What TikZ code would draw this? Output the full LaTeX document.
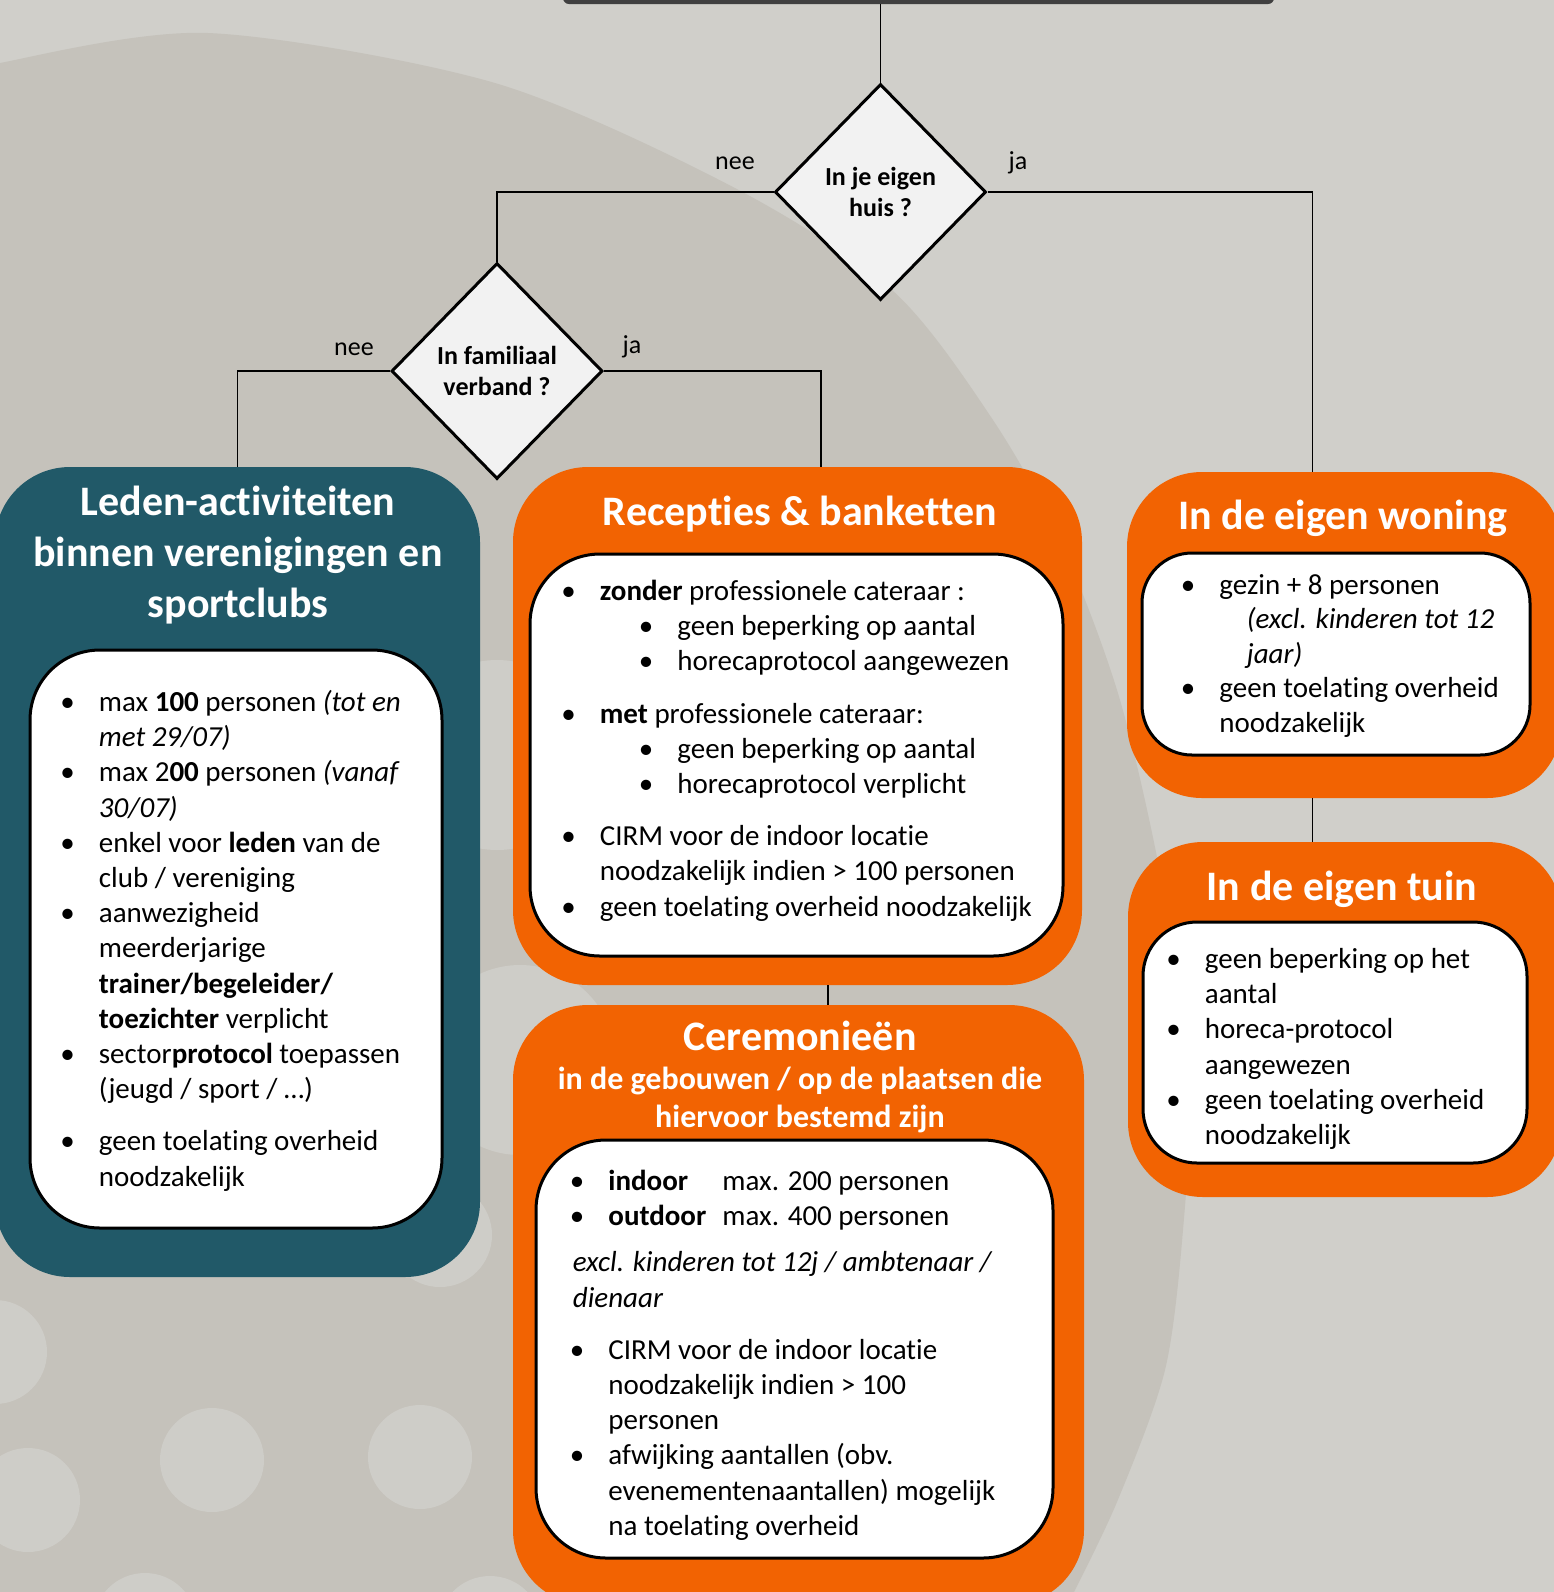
\documentclass[tikz,border=0pt]{standalone}
\usepackage{fontspec}
\setmainfont{Carlito}[Ligatures=NoCommon]
\usetikzlibrary{shapes.geometric}
\definecolor{bggray}{HTML}{D0CFCA}
\definecolor{arcgray}{HTML}{C5C2BB}
\definecolor{dotgray}{HTML}{CECDC8}
\definecolor{clubteal}{HTML}{215968}
\definecolor{feestoranje}{HTML}{F26302}
\definecolor{qfill}{HTML}{F2F2F2}
\definecolor{barcol}{HTML}{404040}
\newcommand{\bul}{\makebox[19.25pt][l]{\textbullet}}
\newcommand{\cont}{\hspace*{19.25pt}}
\newcommand{\subbul}{\hspace*{38.75pt}\makebox[19.25pt][l]{\textbullet}}
\tikzset{
  outerbox/.style={rectangle, fill=#1, rounded corners=37.5pt},
  innerbox/.style={rectangle, fill=white, draw=black, line width=1.5pt, rounded corners=#1},
  boxtitle/.style={text=white, font=\bfseries\fontsize{21}{25.5}\selectfont, align=center, inner sep=0pt},
  boxsubtitle/.style={text=white, font=\bfseries\fontsize{16}{19}\selectfont, align=center, inner sep=0pt},
  listtext/.style={font=\fontsize{14.5}{17.6}\selectfont, align=left, anchor=north west, inner sep=0pt},
  question/.style={diamond, draw, line width=1.5pt, fill=qfill, minimum width=105.5pt, minimum height=108pt,
    inner sep=0pt, font=\bfseries\fontsize{13}{15.5}\selectfont, align=center},
  answer/.style={font=\fontsize{13}{15}\selectfont, inner sep=0pt},
  link/.style={line width=0.9pt},
  topbar/.style={rectangle, fill=barcol, rounded corners=3pt, minimum width=355.5pt, minimum height=34pt}
}
\begin{document}
\begin{tikzpicture}[x=0.5pt, y=-0.5pt]
\useasboundingbox (0,0) rectangle (1554,1592);
\clip (0,0) rectangle (1554,1592);
% achtergrond
\fill[bggray] (0,0) rectangle (1554,1592);
\fill[arcgray] plot[smooth] coordinates {(-20,75) (0,63) (208,33) (495,83) (733,187) (892,290) (991,417)
  (1060,540) (1120,700) (1165,900) (1188,1100) (1183,1230) (1165,1370) (1117,1502) (1070,1600)}
  -- (1070,1650) -- (-20,1650) -- cycle;
\foreach \cx/\cy in {-5/1352, 28/1500, 212/1460, 420/1457, 145/1625, 440/1235, 490/1628}
  \fill[dotgray] (\cx,\cy) circle[radius=52];
\fill[dotgray] (497,755) circle[radius=95] (520,1060) circle[radius=95];

% vragen
\node[topbar] (start) at (918.5,-30) {};
\node[question] (eigenhuis) at (880.5,192) {In je eigen\\huis ?};
\node[question] (familie) at (497,371) {In familiaal\\verband ?};
\node[answer] (nee1) at (735,163) {nee};
\node[answer] (ja1) at (1018,163) {ja};
\node[answer] (nee2) at (354,349) {nee};
\node[answer] (ja2) at (632,347) {ja};

% leden-activiteiten
\node[outerbox=clubteal, minimum width=242.5pt, minimum height=405pt] (leden) at (237.5,872) {};
\node[innerbox=35pt, minimum width=206pt, minimum height=289pt] (ledenin) at (236,939) {};
\node[boxtitle] (ledentitel) at (238,555) {Leden-activiteiten\\binnen verenigingen en\\sportclubs};
\node[listtext] (ledenlijst) at (60,686.5) {\strut\bul max \textbf{100} personen \textit{(tot en}\\
  \cont\textit{met 29/07)}\\
  \bul max 2\textbf{00} personen \textit{(vanaf}\\
  \cont\textit{30/07)}\\
  \bul enkel voor \textbf{leden} van de\\
  \cont club / vereniging\\
  \bul aanwezigheid\\
  \cont meerderjarige\\
  \cont\textbf{trainer/begeleider/}\\
  \cont\textbf{toezichter} verplicht\\
  \bul sector\textbf{protocol} toepassen\\
  \cont(jeugd / sport / …)\\[8.5pt]
  \bul geen toelating overheid\\
  \cont noodzakelijk};

% recepties
\node[outerbox=feestoranje, minimum width=284.5pt, minimum height=259pt] (recep) at (797.5,726) {};
\node[innerbox=35pt, minimum width=266.5pt, minimum height=201pt] (recepin) at (796.5,755) {};
\node[boxtitle] (receptitel) at (800,514) {Recepties \& banketten};
\node[listtext] (receplijst) at (561,575.5) {\strut\bul\textbf{zonder} professionele cateraar :\\
  \subbul geen beperking op aantal\\
  \subbul horecaprotocol aangewezen\\[8.5pt]
  \bul\textbf{met} professionele cateraar:\\
  \subbul geen beperking op aantal\\
  \subbul horecaprotocol verplicht\\[8.5pt]
  \bul CIRM voor de indoor locatie\\
  \cont noodzakelijk indien > 100 personen\\
  \bul geen toelating overheid noodzakelijk};

% ceremonieen
\node[outerbox=feestoranje, minimum width=285.5pt, minimum height=300pt] (cerem) at (798.5,1305) {};
\node[innerbox=35pt, minimum width=258.5pt, minimum height=209pt] (ceremin) at (794.5,1349) {};
\node[boxtitle] (ceremtitel) at (800,1036) {Ceremonieën};
\node[boxsubtitle] (ceremsub) at (800,1100) {in de gebouwen / op de plaatsen die\\hiervoor bestemd zijn};
\node[listtext] (ceremlijst) at (569.5,1165.5) {\strut\bul\makebox[57pt][l]{\textbf{indoor}}max. 200 personen\\
  \bul\makebox[57pt][l]{\textbf{outdoor}}max. 400 personen\\[5.5pt]
  \hspace*{1.5pt}\textit{excl. kinderen tot 12j / ambtenaar /}\\
  \hspace*{1.5pt}\textit{dienaar}\\[8.5pt]
  \bul CIRM voor de indoor locatie\\
  \cont noodzakelijk indien > 100\\
  \cont personen\\
  \bul afwijking aantallen (obv.\\
  \cont evenementenaantallen) mogelijk\\
  \cont na toelating overheid};

% eigen woning
\node[outerbox=feestoranje, minimum width=217.5pt, minimum height=163pt] (woning) at (1344.5,635) {};
\node[innerbox=25pt, minimum width=194pt, minimum height=101pt] (woningin) at (1336,654) {};
\node[boxtitle] (woningtitel) at (1343,518) {In de eigen woning};
\node[listtext, font=\fontsize{14.5}{17.2}\selectfont] (woninglijst) at (1180.5,570) {\strut\bul gezin + 8 personen\\
  \hspace*{33pt}\textit{(excl. kinderen tot 12}\\
  \hspace*{33pt}\textit{jaar)}\\
  \bul geen toelating overheid\\
  \cont noodzakelijk};

% eigen tuin
\node[outerbox=feestoranje, minimum width=217pt, minimum height=177.5pt] (tuin) at (1345,1019.5) {};
\node[innerbox=27pt, minimum width=192pt, minimum height=120.5pt] (tuinin) at (1335,1042.5) {};
\node[boxtitle] (tuintitel) at (1342,889) {In de eigen tuin};
\node[listtext] (tuinlijst) at (1166,943.5) {\strut\bul geen beperking op het\\
  \cont aantal\\
  \bul horeca-protocol\\
  \cont aangewezen\\
  \bul geen toelating overheid\\
  \cont noodzakelijk};

% verbindingen
\draw[link] (start.south -| eigenhuis.north) -- (eigenhuis.north);
\draw[link] (eigenhuis.west) -- (eigenhuis.west -| familie.north) -- (familie.north);
\draw[link] (eigenhuis.east) -| ([xshift=-16pt]woning.north);
\draw[link] (familie.west) -| (leden.north);
\draw[link] (familie.east) -| ([xshift=11.75pt]recep.north);
\draw[link] ([xshift=15.25pt]recep.south) -- ([xshift=15.25pt]recep.south |- cerem.north);
\draw[link] ([xshift=-16pt]woning.south) -- ([xshift=-16pt]woning.south |- tuin.north);
\end{tikzpicture}
\end{document}
